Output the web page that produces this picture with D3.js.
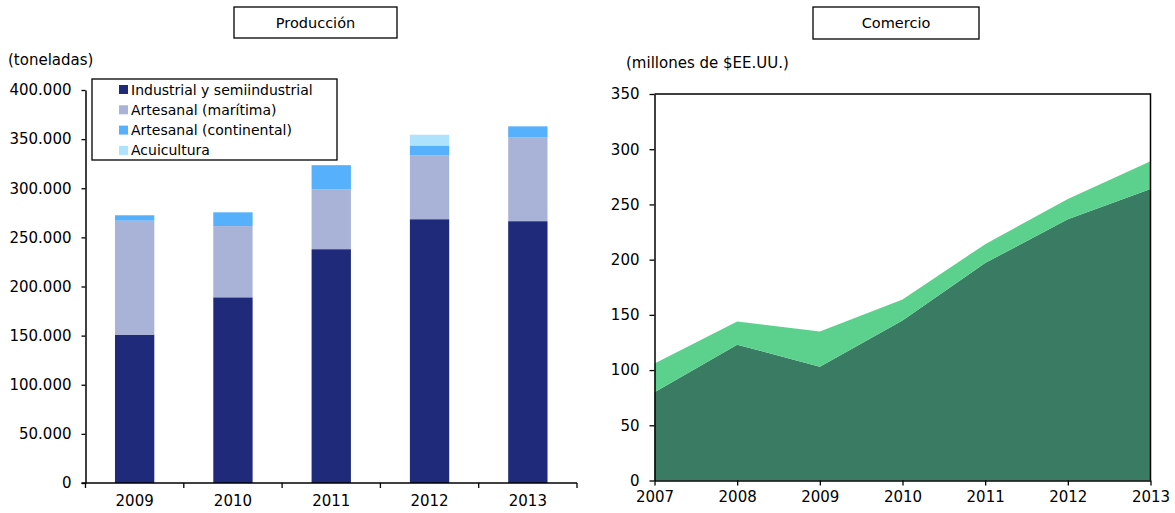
<!DOCTYPE html>
<html>
<head>
<meta charset="utf-8">
<script src="https://cdn.jsdelivr.net/npm/d3@7"></script>
<style>
  body { margin: 0; background: #fff; }
  svg { display: block; font-family: "DejaVu Sans", Verdana, sans-serif; }
</style>
</head>
<body>
<svg id="chart" width="1175" height="513"></svg>
<script>
// Producción (toneladas)
var prodYears    = ["2009", "2010", "2011", "2012", "2013"];
var industrial   = [151000, 189000, 238000, 268500, 266500];
var maritima     = [116000, 72500, 61000, 65000, 85500];
var continental  = [5500, 14000, 24500, 10000, 11000];
var acuicultura  = [0, 0, 0, 11000, 0];
var prodNames    = ["Industrial y semiindustrial", "Artesanal (marítima)", "Artesanal (continental)", "Acuicultura"];
var prodColors   = ["#1f2a7a", "#a9b3d8", "#56b0fc", "#aee2fd"];
var prodTicks    = [0, 50000, 100000, 150000, 200000, 250000, 300000, 350000, 400000];

// Comercio (millones de $EE.UU.)
var comYears     = [2007, 2008, 2009, 2010, 2011, 2012, 2013];
var comBase      = [80, 123, 103, 145, 197, 236.5, 264];
var comSuperior  = [26, 21, 32, 19, 17, 18.5, 25];
var comColors    = ["#3a7b63", "#5cd18d"];
var comTicks     = [0, 50, 100, 150, 200, 250, 300, 350];

var svg = d3.select("#chart");
var fmt = function(v) { return d3.format(",")(v).replace(/,/g, "."); };

// caja de título
function titleBox(x, y, w, h, txt) {
    svg.append("rect").attr("x", x).attr("y", y).attr("width", w).attr("height", h)
        .attr("fill", "#fff").attr("stroke", "#000").attr("stroke-width", 1.3);
    svg.append("text").attr("x", x + w / 2).attr("y", y + h / 2 + 5)
        .attr("text-anchor", "middle").attr("font-size", "14.5px").text(txt);
}

/* ---------- Producción ---------- */
var L = {left: 85.5, right: 577, top: 90, bottom: 483};

var xBand = d3.scaleBand().domain(prodYears).range([L.left, L.right]).paddingInner(0.6).paddingOuter(0.3);
var yProd = d3.scaleLinear().domain([0, 400000]).range([L.bottom, L.top]);

var prodRows = prodYears.map(function(y, i) {
    return {year: y, k0: industrial[i], k1: maritima[i], k2: continental[i], k3: acuicultura[i]};
});
var prodStack = d3.stack().keys(["k0", "k1", "k2", "k3"])(prodRows);

var gBars = svg.append("g");
prodStack.forEach(function(layer, li) {
    gBars.selectAll(null).data(layer).enter()
        .append("rect")
        .attr("x", function(d) { return xBand(d.data.year); })
        .attr("width", xBand.bandwidth())
        .attr("y", function(d) { return yProd(d[1]); })
        .attr("height", function(d) { return yProd(d[0]) - yProd(d[1]); })
        .attr("fill", prodColors[li]);
});

var yAxisL = svg.append("g").attr("transform", "translate(" + L.left + ",0)")
    .call(d3.axisLeft(yProd).tickValues(prodTicks).tickFormat(fmt).tickSize(4).tickPadding(10).tickSizeOuter(0));

// eje x con marcas en los límites de cada categoría
var xEdge = d3.scaleLinear().domain([0, prodYears.length]).range([L.left, L.right]);
var xAxisL = svg.append("g").attr("transform", "translate(0," + L.bottom + ")");
xAxisL.append("line").attr("x1", L.left - 4).attr("x2", L.right).attr("stroke", "#000").attr("stroke-width", 1.5);
xAxisL.selectAll("line.t").data(d3.range(prodYears.length + 1)).enter()
    .append("line").attr("class", "t")
    .attr("x1", function(d) { return xEdge(d); }).attr("x2", function(d) { return xEdge(d); })
    .attr("y1", 0).attr("y2", 5).attr("stroke", "#000").attr("stroke-width", 1.3);
xAxisL.selectAll("text").data(prodYears).enter()
    .append("text")
    .attr("x", function(d) { return xBand(d) + xBand.bandwidth() / 2; })
    .attr("y", 23).attr("text-anchor", "middle").attr("font-size", "15px").text(function(d) { return d; });

svg.append("text").attr("x", 8).attr("y", 65).attr("font-size", "15px").text("(toneladas)");

// leyenda
var leg = svg.append("g");
leg.append("rect").attr("x", 92).attr("y", 79).attr("width", 245).attr("height", 81)
    .attr("fill", "#fff").attr("stroke", "#000").attr("stroke-width", 1.3);
prodNames.forEach(function(n, i) {
    var cy = 89.5 + i * 20.3;
    leg.append("rect").attr("x", 119).attr("y", cy - 4.5).attr("width", 9).attr("height", 9).attr("fill", prodColors[i]);
    leg.append("text").attr("x", 131).attr("y", cy + 5).attr("font-size", "14px").text(n);
});

titleBox(234, 7, 163, 31, "Producción");

/* ---------- Comercio ---------- */
var R = {left: 654.5, right: 1150.5, top: 94, bottom: 480.5};

var xCom = d3.scaleLinear().domain([2007, 2013]).range([R.left, R.right]);
var yCom = d3.scaleLinear().domain([0, 350]).range([R.bottom, R.top]);

var comRows = comYears.map(function(y, i) { return {year: y, a: comBase[i], b: comSuperior[i]}; });
var comStack = d3.stack().keys(["a", "b"])(comRows);
var area = d3.area()
    .x(function(d) { return xCom(d.data.year); })
    .y0(function(d) { return yCom(d[0]); })
    .y1(function(d) { return yCom(d[1]); });

svg.append("g").selectAll("path").data(comStack).enter()
    .append("path").attr("d", area)
    .attr("fill", function(d, i) { return comColors[i]; });

// marco superior y derecho
svg.append("path")
    .attr("d", "M" + R.left + "," + R.top + "H" + R.right + "V" + R.bottom)
    .attr("fill", "none").attr("stroke", "#000").attr("stroke-width", 1.5);

svg.append("g").attr("transform", "translate(" + R.left + ",0)")
    .call(d3.axisLeft(yCom).tickValues(comTicks).tickSize(5).tickPadding(10).tickSizeOuter(0));

svg.append("g").attr("transform", "translate(0," + R.bottom + ")")
    .call(d3.axisBottom(xCom).tickValues(comYears).tickFormat(d3.format("d")).tickSize(5).tickPadding(6).tickSizeOuter(0));

svg.append("text").attr("x", 626).attr("y", 68).attr("font-size", "15px").text("(millones de $EE.UU.)");

titleBox(813, 7, 166, 32, "Comercio");

// estilo de ejes
svg.selectAll(".domain").attr("stroke", "#000").attr("stroke-width", 1.5);
svg.selectAll(".tick line").attr("stroke", "#000").attr("stroke-width", 1.3);
svg.selectAll(".tick text").attr("font-size", "15px").attr("fill", "#000")
    .attr("font-family", "\"DejaVu Sans\", Verdana, sans-serif");
</script>
</body>
</html>
